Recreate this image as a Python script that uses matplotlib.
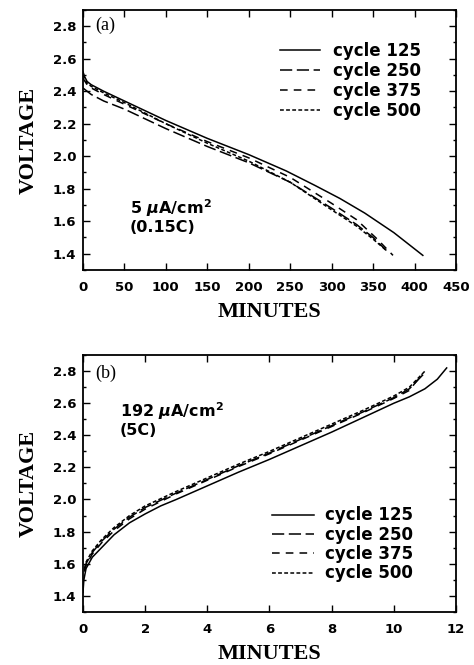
import numpy as np
import matplotlib
matplotlib.use("Agg")
import matplotlib.pyplot as plt
from matplotlib.ticker import MultipleLocator, FormatStrFormatter

# panel (a): discharge at 5 uA/cm2
t_a125 = [0, 2, 5, 10, 25, 50, 100, 150, 170, 200, 245, 280, 310, 340, 375, 410]
v_a125 = [2.52, 2.49, 2.46, 2.44, 2.40, 2.34, 2.22, 2.11, 2.07, 2.01, 1.91, 1.82, 1.74, 1.65, 1.53, 1.39]
t_a250 = [0, 5, 10, 25, 50, 100, 150, 200, 250, 300, 330, 350, 366]
v_a250 = [2.42, 2.40, 2.38, 2.34, 2.29, 2.17, 2.06, 1.96, 1.84, 1.68, 1.58, 1.50, 1.42]
t_a375 = [0, 5, 10, 25, 50, 100, 150, 200, 250, 300, 330, 355, 374]
v_a375 = [2.48, 2.44, 2.42, 2.38, 2.32, 2.20, 2.09, 1.99, 1.87, 1.71, 1.61, 1.49, 1.39]
t_a500 = [0, 5, 10, 25, 50, 100, 150, 200, 250, 300, 330, 350, 366]
v_a500 = [2.50, 2.45, 2.43, 2.39, 2.33, 2.20, 2.08, 1.97, 1.84, 1.67, 1.57, 1.49, 1.42]

# panel (b): charge at 192 uA/cm2
t_b125 = [0, 0.03, 0.1, 0.3, 0.55, 1, 1.5, 2, 2.5, 3, 4, 5, 6, 7, 8, 9, 10, 10.5, 11, 11.4, 11.7]
v_b125 = [1.42, 1.50, 1.57, 1.64, 1.69, 1.78, 1.855, 1.91, 1.96, 2.00, 2.085, 2.17, 2.25, 2.335, 2.42,
          2.51, 2.60, 2.64, 2.69, 2.75, 2.82]
t_b250 = [0.05, 0.1, 0.3, 0.6, 1, 1.5, 2, 3, 4, 5, 6, 7, 8, 9, 10, 10.5, 11]
v_b250 = [1.56, 1.60, 1.67, 1.74, 1.815, 1.89, 1.95, 2.04, 2.125, 2.21, 2.29, 2.375, 2.46, 2.545,
          2.635, 2.69, 2.79]
t_b375 = [0.05, 0.1, 0.3, 0.6, 1, 1.5, 2, 3, 4, 5, 6, 7, 8, 9, 10, 10.5, 10.9]
v_b375 = [1.55, 1.59, 1.66, 1.73, 1.805, 1.88, 1.94, 2.035, 2.12, 2.205, 2.285, 2.37, 2.455, 2.54,
          2.63, 2.68, 2.78]
t_b500 = [0.05, 0.1, 0.3, 0.6, 1, 1.5, 2, 3, 4, 5, 6, 7, 8, 9, 10, 10.5, 11]
v_b500 = [1.57, 1.61, 1.68, 1.75, 1.825, 1.90, 1.96, 2.05, 2.135, 2.22, 2.30, 2.385, 2.47, 2.555,
          2.645, 2.70, 2.80]

labels = ["cycle 125", "cycle 250", "cycle 375", "cycle 500"]
styles = ["-", (0, (8, 3)), (0, (5, 4)), (0, (2.5, 1.5))]

sans = "DejaVu Sans"
serif = "Liberation Serif"
plt.rcParams["mathtext.fontset"] = "custom"
plt.rcParams["mathtext.rm"] = "DejaVu Sans:bold"
plt.rcParams["mathtext.it"] = "DejaVu Sans:bold:italic"

fig = plt.figure(figsize=(4.74, 6.65), dpi=100)
ax1 = fig.add_axes([0.175, 0.594, 0.787, 0.391])
ax2 = fig.add_axes([0.175, 0.080, 0.787, 0.386])

curves_a = [(t_a125, v_a125), (t_a250, v_a250), (t_a375, v_a375), (t_a500, v_a500)]
curves_b = [(t_b125, v_b125), (t_b250, v_b250), (t_b375, v_b375), (t_b500, v_b500)]

ax1.set_xlim(0, 450)
ax1.xaxis.set_major_locator(MultipleLocator(50))
ax2.set_xlim(0, 12)
ax2.xaxis.set_major_locator(MultipleLocator(2))

for ax, curves in [(ax1, curves_a), (ax2, curves_b)]:
    for (t, v), lab, ls in zip(curves, labels, styles):
        ax.plot(t, v, color="black", lw=1.1, ls=ls, label=lab)
    ax.set_ylim(1.3, 2.9)
    ax.yaxis.set_major_locator(MultipleLocator(0.2))
    ax.yaxis.set_minor_locator(MultipleLocator(0.1))
    ax.yaxis.set_major_formatter(FormatStrFormatter("%.1f"))
    ax.tick_params(which="both", direction="in", top=True, right=True, width=1)
    ax.tick_params(which="major", length=5)
    ax.tick_params(which="minor", length=2.5)
    ax.tick_params(axis="x", pad=8)
    ax.tick_params(axis="y", pad=5)
    for sp in ax.spines.values():
        sp.set_linewidth(1.3)
    for lbl in ax.get_xticklabels() + ax.get_yticklabels():
        lbl.set_fontfamily(sans)
        lbl.set_fontweight("bold")
        lbl.set_fontsize(9.5)
    ax.set_ylabel("VOLTAGE", family=serif, fontweight="bold", fontsize=16, labelpad=10)
    ax.set_xlabel("MINUTES", family=serif, fontweight="bold", fontsize=16, labelpad=6)

leg_font = {"family": sans, "weight": "bold", "size": 12}
ax1.legend(loc="upper right", bbox_to_anchor=(0.93, 0.91), frameon=False, prop=leg_font,
           handlelength=2.4, handletextpad=0.8, labelspacing=0.12, borderpad=0)
ax2.legend(loc="upper right", bbox_to_anchor=(0.908, 0.443), frameon=False, prop=leg_font,
           handlelength=2.5, handletextpad=0.7, labelspacing=0.08, borderpad=0)

ax1.text(0.032, 0.94, "(a)", transform=ax1.transAxes, family=serif, fontsize=13, va="center")
ax1.text(0.125, 0.215, r"5 $\mu$A/cm$^2$", transform=ax1.transAxes, family=sans,
         fontweight="bold", fontsize=11.5, va="baseline")
ax1.text(0.125, 0.145, "(0.15C)", transform=ax1.transAxes, family=sans, fontweight="bold",
         fontsize=11.5, va="baseline")

ax2.text(0.032, 0.93, "(b)", transform=ax2.transAxes, family=serif, fontsize=13, va="center")
ax2.text(0.099, 0.76, r"192 $\mu$A/cm$^2$", transform=ax2.transAxes, family=sans,
         fontweight="bold", fontsize=11.5, va="baseline")
ax2.text(0.099, 0.69, "(5C)", transform=ax2.transAxes, family=sans, fontweight="bold",
         fontsize=11.5, va="baseline")

fig.savefig("out.png", dpi=100)
